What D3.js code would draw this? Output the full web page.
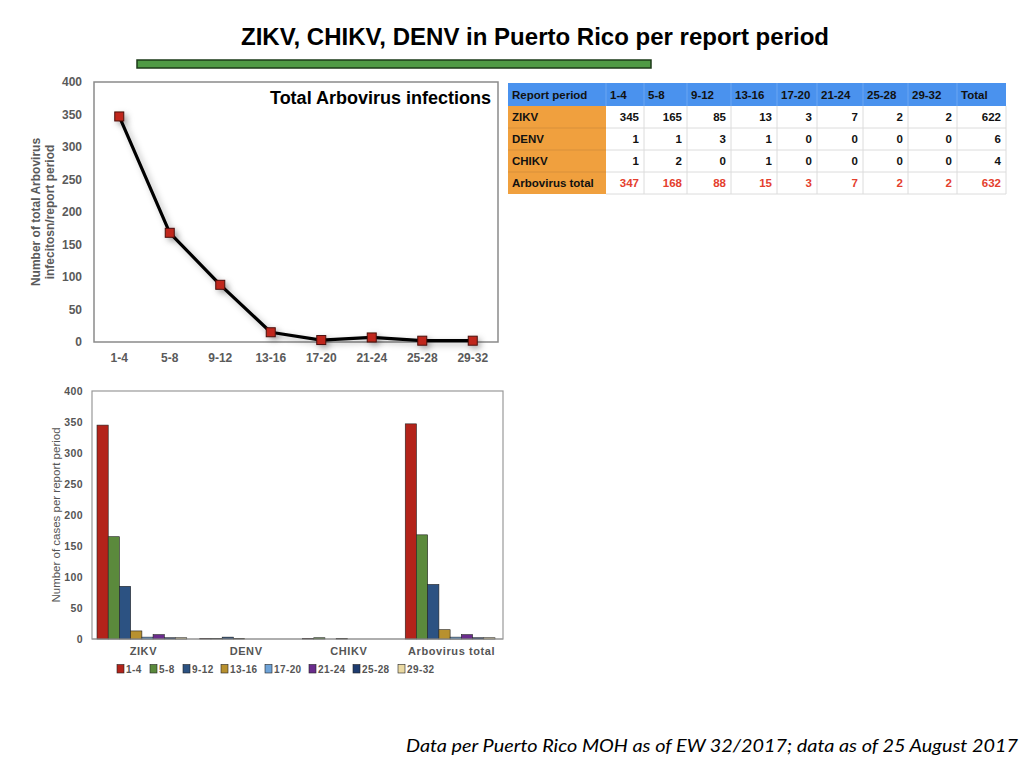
<!DOCTYPE html>
<html>
<head>
<meta charset="utf-8">
<script src="https://cdn.jsdelivr.net/npm/d3@7"></script>
<style>
  html, body { margin: 0; padding: 0; background: #fff; }
  svg { display: block; font-family: "Liberation Sans", Arial, sans-serif; }
</style>
</head>
<body>
<div id="chart"></div>
<script>
// Data
const periods = ["1-4", "5-8", "9-12", "13-16", "17-20", "21-24", "25-28", "29-32"];
const viruses = ["ZIKV", "DENV", "CHIKV", "Arbovirus total"];
const zikv = [345, 165, 85, 13, 3, 7, 2, 2];
const denv = [1, 1, 3, 1, 0, 0, 0, 0];
const chikv = [1, 2, 0, 1, 0, 0, 0, 0];
const arboTotal = [347, 168, 88, 15, 3, 7, 2, 2];
const rowTotals = [622, 6, 4, 632];
const yTicks = [0, 50, 100, 150, 200, 250, 300, 350, 400];
const periodColors = ["#b3231a", "#5b8a3c", "#2c5282", "#b8912f", "#6ea3d8", "#6a2c8c", "#1e3c70", "#ead9a2"];

const svg = d3.select("#chart").append("svg")
  .attr("width", 1024).attr("height", 768);

// shadow filter for the line
const defs = svg.append("defs");
const f = defs.append("filter").attr("id", "shadow")
  .attr("x", "-20%").attr("y", "-20%").attr("width", "140%").attr("height", "140%");
f.append("feDropShadow").attr("dx", 3).attr("dy", 3).attr("stdDeviation", 3)
  .attr("flood-color", "#000").attr("flood-opacity", 0.3);

// Title + green bar
svg.append("text").attr("x", 535).attr("y", 45).attr("text-anchor", "middle")
  .attr("font-size", 23).attr("font-weight", "bold").attr("fill", "#000")
  .attr("textLength", 588).attr("lengthAdjust", "spacingAndGlyphs")
  .text("ZIKV, CHIKV, DENV in Puerto Rico per report period");
svg.append("rect").attr("x", 137).attr("y", 60).attr("width", 514).attr("height", 8)
  .attr("fill", "#4f9a45").attr("stroke", "#1c3a18").attr("stroke-width", 1.5);

// ---------- Top line chart ----------
const box1 = { l: 94, r: 498, t: 82, b: 342 };
const x1 = d3.scaleBand().domain(periods).range([box1.l, box1.r]);
const y1 = d3.scaleLinear().domain([0, 400]).range([box1.b, box1.t]);

svg.append("rect").attr("x", box1.l).attr("y", box1.t)
  .attr("width", box1.r - box1.l).attr("height", box1.b - box1.t)
  .attr("fill", "none").attr("stroke", "#8a8a8a").attr("stroke-width", 1.5);

const ya1 = svg.append("g").attr("transform", `translate(${box1.l},0)`)
  .call(d3.axisLeft(y1).tickValues(yTicks).tickSize(0).tickPadding(12));
ya1.select(".domain").remove();
ya1.selectAll("text").attr("font-size", 12).attr("font-weight", "bold").attr("fill", "#5a5a5a")
  .attr("font-family", "Liberation Sans, Arial, sans-serif");

const xa1 = svg.append("g").attr("transform", `translate(0,${box1.b})`)
  .call(d3.axisBottom(x1).tickSize(0).tickPadding(11));
xa1.select(".domain").remove();
xa1.selectAll("text").attr("font-size", 12).attr("font-weight", "bold").attr("fill", "#5a5a5a")
  .attr("font-family", "Liberation Sans, Arial, sans-serif");

svg.append("text").attr("transform", "translate(40,212) rotate(-90)")
  .attr("text-anchor", "middle").attr("font-size", 12).attr("font-weight", "bold").attr("fill", "#5a5a5a")
  .selectAll("tspan").data(["Number of total Arbovirus", "infecitosn/report period"]).join("tspan")
  .attr("x", 0).attr("dy", (d, i) => i === 0 ? 0 : 14).text(d => d);

svg.append("text").attr("x", 491).attr("y", 104).attr("text-anchor", "end")
  .attr("font-size", 18).attr("font-weight", "bold").attr("fill", "#000")
  .text("Total Arbovirus infections");

const line = d3.line()
  .x((d, i) => x1(periods[i]) + x1.bandwidth() / 2)
  .y(d => y1(d));
svg.append("path").datum(arboTotal)
  .attr("fill", "none").attr("stroke", "#000").attr("stroke-width", 3.2)
  .attr("stroke-linejoin", "round")
  .attr("filter", "url(#shadow)")
  .attr("d", line);
svg.append("g").attr("filter", "url(#shadow)")
  .selectAll("rect").data(arboTotal).join("rect")
  .attr("x", (d, i) => x1(periods[i]) + x1.bandwidth() / 2 - 4.5)
  .attr("y", d => y1(d) - 4.5)
  .attr("width", 9).attr("height", 9)
  .attr("fill", "#c0281d").attr("stroke", "#4a0f0a").attr("stroke-width", 1);

// ---------- Table ----------
const tableRows = [zikv, denv, chikv, arboTotal];
const colHeads = ["Report period"].concat(periods, ["Total"]);
const colEdges = [508, 606, 644, 687, 731, 777, 817, 863, 908, 957, 1006];
const rowEdges = [83, 106, 128, 150, 172, 194];
const tbl = svg.append("g").attr("font-size", 11.5).attr("font-weight", "bold");

tbl.append("rect").attr("x", colEdges[0]).attr("y", rowEdges[0])
  .attr("width", colEdges[10] - colEdges[0]).attr("height", rowEdges[1] - rowEdges[0])
  .attr("fill", "#4a92ee");
tbl.append("rect").attr("x", colEdges[0]).attr("y", rowEdges[1])
  .attr("width", colEdges[1] - colEdges[0]).attr("height", rowEdges[5] - rowEdges[1])
  .attr("fill", "#f0a03e");
// grid lines
tbl.selectAll("line.h").data(rowEdges.slice(2)).join("line")
  .attr("x1", colEdges[1]).attr("x2", colEdges[10]).attr("y1", d => d).attr("y2", d => d)
  .attr("stroke", "#dcdcdc").attr("stroke-width", 1);
tbl.selectAll("line.ho").data(rowEdges.slice(2, 5)).join("line")
  .attr("x1", colEdges[0]).attr("x2", colEdges[1]).attr("y1", d => d).attr("y2", d => d)
  .attr("stroke", "#d8903a").attr("stroke-width", 1);
tbl.selectAll("line.v").data(colEdges.slice(2)).join("line")
  .attr("x1", d => d).attr("x2", d => d).attr("y1", rowEdges[1]).attr("y2", rowEdges[5])
  .attr("stroke", "#dcdcdc").attr("stroke-width", 1);
tbl.selectAll("line.vh").data(colEdges.slice(1, 10)).join("line")
  .attr("x1", d => d).attr("x2", d => d).attr("y1", rowEdges[0]).attr("y2", rowEdges[1])
  .attr("stroke", "#6aa6f2").attr("stroke-width", 1);

tbl.selectAll("text.head").data(colHeads).join("text")
  .attr("x", (d, i) => colEdges[i] + 4).attr("y", (rowEdges[0] + rowEdges[1]) / 2 + 4)
  .attr("fill", "#111").text(d => d);
tableRows.forEach((row, r) => {
  const yb = (rowEdges[r + 1] + rowEdges[r + 2]) / 2 + 4;
  const col = r === 3 ? "#e4402e" : "#111";
  tbl.append("text").attr("x", colEdges[0] + 4).attr("y", yb).attr("fill", "#111")
    .text(viruses[r]);
  tbl.selectAll(null).data(row.concat([rowTotals[r]])).join("text")
    .attr("x", (d, i) => colEdges[i + 2] - 5).attr("y", yb)
    .attr("text-anchor", "end").attr("fill", col).text(d => d);
});

// ---------- Bottom grouped bar chart ----------
const box2 = { l: 92, r: 503, t: 391, b: 639 };
const x2 = d3.scaleBand().domain(viruses).range([box2.l, box2.r]);
const xin = d3.scaleBand().domain(periods).range([5, x2.bandwidth() - 8]);
const y2 = d3.scaleLinear().domain([0, 400]).range([box2.b, box2.t]);

svg.append("rect").attr("x", box2.l).attr("y", box2.t)
  .attr("width", box2.r - box2.l).attr("height", box2.b - box2.t)
  .attr("fill", "none").attr("stroke", "#999").attr("stroke-width", 1.2);

const groups = svg.append("g").selectAll("g").data(tableRows).join("g")
  .attr("transform", (d, i) => `translate(${x2(viruses[i])},0)`);
groups.selectAll("rect").data(d => d).join("rect")
  .attr("x", (d, i) => xin(periods[i]))
  .attr("y", d => y2(d))
  .attr("width", xin.bandwidth())
  .attr("height", d => box2.b - y2(d))
  .attr("fill", (d, i) => periodColors[i])
  .attr("stroke", "#222").attr("stroke-width", 0.6);

svg.append("line").attr("x1", box2.l).attr("x2", box2.r).attr("y1", box2.b).attr("y2", box2.b)
  .attr("stroke", "#999").attr("stroke-width", 1.2);

const ya2 = svg.append("g").attr("transform", `translate(${box2.l},0)`)
  .call(d3.axisLeft(y2).tickValues(yTicks).tickSize(0).tickPadding(9));
ya2.select(".domain").remove();
ya2.selectAll("text").attr("font-size", 10.5).attr("font-weight", "bold").attr("fill", "#555")
  .attr("letter-spacing", 0.4)
  .attr("font-family", "Liberation Sans, Arial, sans-serif");

const xa2 = svg.append("g").attr("transform", `translate(0,${box2.b})`)
  .call(d3.axisBottom(x2).tickSize(0).tickPadding(8));
xa2.select(".domain").remove();
xa2.selectAll("text").attr("font-size", 11).attr("font-weight", "bold").attr("fill", "#555")
  .attr("letter-spacing", 0.6)
  .attr("font-family", "Liberation Sans, Arial, sans-serif");

svg.append("text").attr("transform", "translate(60,515) rotate(-90)")
  .attr("text-anchor", "middle").attr("font-size", 11.5).attr("fill", "#555")
  .text("Number of cases per report period");

// legend
const legX = [117, 150, 183, 221, 265, 309, 353, 398];
const leg = svg.append("g").selectAll("g").data(periods).join("g")
  .attr("transform", (d, i) => `translate(${legX[i]},669)`);
leg.append("rect").attr("x", 0).attr("y", -4.5).attr("width", 7).attr("height", 8.5)
  .attr("fill", (d, i) => periodColors[i]).attr("stroke", "#222").attr("stroke-width", 0.6);
leg.append("text").attr("x", 9).attr("y", 4).attr("font-size", 10).attr("font-weight", "bold")
  .attr("letter-spacing", 0.4)
  .attr("fill", "#555").text(d => d);

// footer
svg.append("text").attr("x", 1018).attr("y", 752).attr("text-anchor", "end")
  .attr("font-family", "Lato, 'Noto Sans', sans-serif").attr("font-style", "italic")
  .attr("font-size", 18).attr("fill", "#000")
  .attr("textLength", 612).attr("lengthAdjust", "spacingAndGlyphs")
  .text("Data per Puerto Rico MOH as of EW 32/2017; data as of 25 August 2017");
</script>
</body>
</html>
